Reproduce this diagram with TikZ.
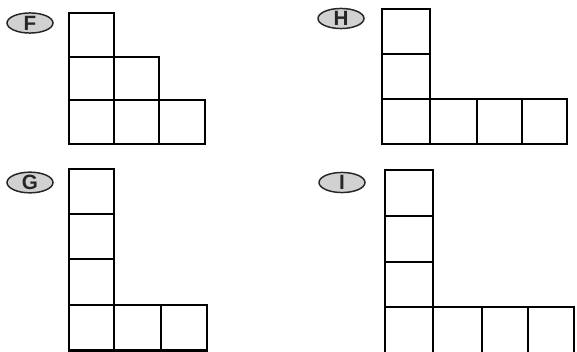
\documentclass[tikz,border=0pt]{standalone}
\usepackage{fontspec}
\setmainfont{Liberation Sans}
\usetikzlibrary{shapes.geometric}
\tikzset{
  cell/.style={draw=black, line width=2pt, line join=miter},
  tag/.style={ellipse, draw=black!85, line width=1.1pt, fill=black!18,
    minimum width=34.5pt, minimum height=14.5pt, inner sep=0pt,
    font=\fontsize{15.5}{15.5}\selectfont\bfseries, text=black!85}
}
\begin{document}
\begin{tikzpicture}[x=0.75pt,y=-0.75pt]
\useasboundingbox (0,0) rectangle (577,352);
\clip (0,0) rectangle (577,352);
% labels
\node[tag] (lF) at (30,23) {F};
\node[tag] (lH) at (341,18.5) {H};
\node[tag] (lG) at (30,182.5) {G};
\node[tag] (lI) at (342,182.5) {I};
% F
\draw[cell] (69,13) rectangle (114,57);
\draw[cell] (69,57) rectangle (114,100);
\draw[cell] (114,57) rectangle (159,100);
\draw[cell] (69,100) rectangle (114,144);
\draw[cell] (114,100) rectangle (159,144);
\draw[cell] (159,100) rectangle (205,144);
% H
\draw[cell] (382,9) rectangle (430,54);
\draw[cell] (382,54) rectangle (430,99);
\draw[cell] (382,99) rectangle (430,144);
\draw[cell] (430,99) rectangle (477,144);
\draw[cell] (477,99) rectangle (522,144);
\draw[cell] (522,99) rectangle (567,144);
% G
\draw[cell] (69,169) rectangle (114,214);
\draw[cell] (69,214) rectangle (114,259);
\draw[cell] (69,259) rectangle (114,305);
\draw[cell] (69,305) rectangle (114,350.5);
\draw[cell] (114,305) rectangle (161,350.5);
\draw[cell] (161,305) rectangle (207,350.5);
% I
\draw[cell] (385,170) rectangle (433,216);
\draw[cell] (385,216) rectangle (433,262);
\draw[cell] (385,262) rectangle (433,307);
\draw[cell] (385,307) rectangle (433,356);
\draw[cell] (433,307) rectangle (482,356);
\draw[cell] (482,307) rectangle (528,356);
\draw[cell] (528,307) rectangle (574,356);
\end{tikzpicture}
\end{document}
